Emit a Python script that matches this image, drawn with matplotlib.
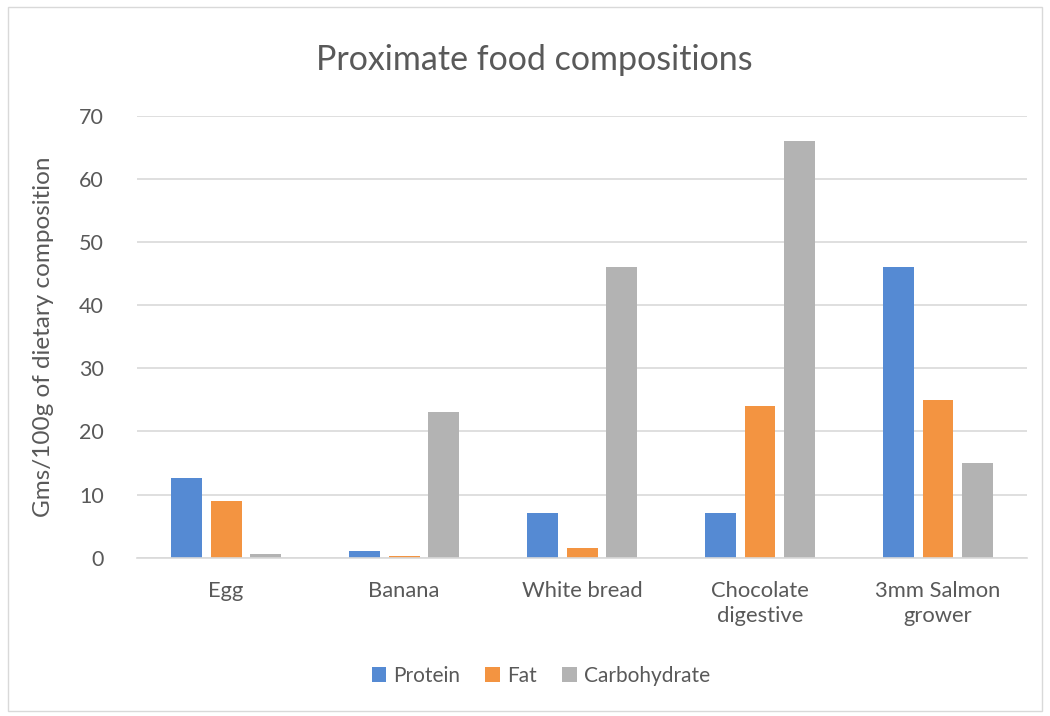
import numpy as np
import matplotlib.pyplot as plt
from matplotlib.patches import Rectangle

foods = ['Egg', 'Banana', 'White bread', 'Chocolate\ndigestive', '3mm Salmon\ngrower']
protein = [12.6, 1.1, 7.0, 7.0, 46.0]
fat = [9.0, 0.3, 1.5, 24.0, 25.0]
carbohydrate = [0.6, 23.0, 46.0, 66.0, 15.0]

plt.rcParams['font.family'] = ['Lato', 'DejaVu Sans']
txt = '#595959'

fig = plt.figure(figsize=(10.5, 7.16), dpi=100)
ax = fig.add_axes([0.1305, 0.2211, 0.8476, 0.6173])

# chart border
fig.patches.append(Rectangle((8 / 1050, 1 - 711 / 716), 1034 / 1050, 704 / 716,
                             transform=fig.transFigure, fill=False,
                             edgecolor='#d9d9d9', linewidth=1))

x = np.arange(len(foods))
w = 0.174
step = 0.222
ax.bar(x - step, protein, w, color='#558ad3', label='Protein')
ax.bar(x, fat, w, color='#f39441', label='Fat')
ax.bar(x + step, carbohydrate, w, color='#b3b3b3', label='Carbohydrate')

ax.set_xlim(-0.5, len(foods) - 0.5)
ax.set_ylim(0, 70)
ax.set_yticks(range(0, 71, 10))
ax.set_xticks(x)
ax.set_xticklabels(foods, fontsize=15.8, color=txt, linespacing=1.3, va='top')
ax.tick_params(axis='y', labelsize=15.5, colors=txt, length=0, pad=24)
ax.tick_params(axis='x', length=0, pad=17)
ax.grid(axis='y', color='#d9d9d9', linewidth=1.2)
ax.set_axisbelow(True)
for s in ['top', 'right', 'left']:
    ax.spines[s].set_visible(False)
ax.spines['bottom'].set_color('#d9d9d9')
ax.spines['bottom'].set_linewidth(1.2)

ax.set_ylabel('Gms/100g of dietary composition', fontsize=17.5, color=txt, labelpad=18)
fig.text(0.509, 1 - 60 / 716, 'Proximate food compositions', fontsize=24.5,
         color=txt, ha='center', va='center')

fig.legend(loc='center', bbox_to_anchor=(0.515, 1 - 676 / 716), ncol=3, frameon=False,
           fontsize=15, handlelength=0.7, handleheight=0.7, handletextpad=0.35,
           columnspacing=1.2, labelcolor=txt)

fig.savefig('out.png', dpi=100)
